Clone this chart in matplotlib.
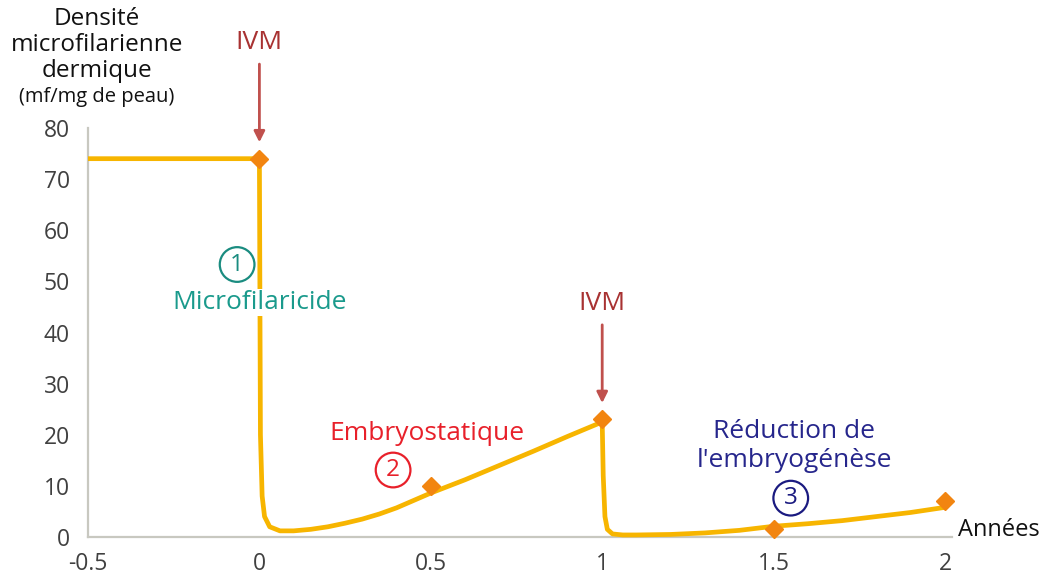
import matplotlib
matplotlib.use("Agg")
import matplotlib.pyplot as plt

plt.rcParams['font.family'] = ['Open Sans', 'DejaVu Sans']

# Skin microfilarial density over time (years), two ivermectin doses
curve_x = [-0.5, 0.0, 0.003, 0.008, 0.015, 0.03, 0.06, 0.1, 0.15, 0.2, 0.25, 0.3,
           0.35, 0.4, 0.5, 0.6, 0.7, 0.8, 0.9, 1.0, 1.003, 1.008, 1.015, 1.03,
           1.06, 1.1, 1.2, 1.3, 1.4, 1.5, 1.6, 1.7, 1.8, 1.9, 2.0]
curve_y = [74, 74, 20, 8, 4, 2, 1.2, 1.2, 1.5, 2.0, 2.7, 3.5,
           4.5, 5.7, 8.6, 11.2, 14.0, 16.8, 19.7, 22.5, 12, 4, 1.5, 0.6,
           0.4, 0.4, 0.5, 0.8, 1.3, 2.1, 2.6, 3.2, 4.0, 4.8, 5.8]

marker_x = [0.0, 0.5, 1.0, 1.5, 2.0]
marker_y = [74, 10, 23, 1.5, 7]

dose_x = [0.0, 1.0]
dose_y = [74, 23]

x_ticks = [-0.5, 0, 0.5, 1, 1.5, 2]
x_tick_labels = ['-0.5', '0', '0.5', '1', '1.5', '2']
y_ticks = [0, 10, 20, 30, 40, 50, 60, 70, 80]

W, H = 1044, 576
fig = plt.figure(figsize=(W / 100, H / 100), dpi=100)
fig.patch.set_facecolor('white')
ax = fig.add_axes([88 / W, (H - 537) / H, (945 - 88) / W, (537 - 128) / H])
ax.set_xlim(-0.5, 2.0)
ax.set_ylim(0, 80)
ax.set_facecolor('none')

for s in ['top', 'right']:
    ax.spines[s].set_visible(False)
for s in ['left', 'bottom']:
    ax.spines[s].set_color('#C8C8C0')
    ax.spines[s].set_linewidth(1.6)
ax.spines['bottom'].set_bounds(-0.5, 2.02)

ax.set_xticks(x_ticks)
ax.set_xticklabels(x_tick_labels)
ax.set_yticks(y_ticks)
ax.tick_params(length=0, labelsize=16.5, colors='#404040', pad=13)
ax.tick_params(axis='x', pad=11)

ax.plot(curve_x, curve_y, color='#F7B500', lw=3.4, solid_joinstyle='round',
        solid_capstyle='butt', zorder=3, clip_on=False)
ax.plot(marker_x, marker_y, ls='none', marker='D', ms=9.5, color='#F28510',
        zorder=4, clip_on=False)

# Dose arrows
for dx, dy in zip(dose_x, dose_y):
    ax.annotate('', xy=(dx, dy + 3.2), xytext=(dx, dy + 18.5),
                arrowprops=dict(arrowstyle='-|>', color='#C0504D', lw=2,
                                mutation_scale=16, shrinkA=0, shrinkB=0),
                annotation_clip=False, zorder=5)
    ax.text(dx, dy + 20.3, 'IVM', color='#A83232', fontsize=19,
            ha='center', va='bottom', zorder=5)

# Phase annotations
circ = dict(boxstyle='circle,pad=0.22', fc='white', lw=1.6)
ax.text(-0.065, 53.3, '1', color='#1A8C80', fontsize=17.5, ha='center', va='center',
        bbox=dict(circ, ec='#1A8C80'), zorder=6)
ax.text(0.0, 45.9, 'Microfilaricide', color='#1A9A8C', fontsize=19, ha='center',
        va='center', bbox=dict(boxstyle='square,pad=0.05', fc='white', ec='none'), zorder=6)

ax.text(0.49, 20.3, 'Embryostatique', color='#E8202A', fontsize=19, ha='center',
        va='center', zorder=6)
ax.text(0.39, 13.1, '2', color='#E8202A', fontsize=17.5, ha='center', va='center',
        bbox=dict(circ, ec='#E8202A'), zorder=6)

ax.text(1.56, 20.6, 'Réduction de', color='#26268C', fontsize=19, ha='center',
        va='center', zorder=6)
ax.text(1.56, 15.0, "l'embryogénèse", color='#26268C', fontsize=19, ha='center',
        va='center', zorder=6)
ax.text(1.55, 7.6, '3', color='#1A1A80', fontsize=17.5, ha='center', va='center',
        bbox=dict(circ, ec='#1A1A80'), zorder=6)

# Axis titles
fig.text(999 / W, 1 - 530 / H, 'Années', fontsize=17, color='#111111',
         ha='center', va='center')
fig.text(97 / W, 1 - 19 / H, 'Densité', fontsize=17.5, color='#111111', ha='center', va='center')
fig.text(97 / W, 1 - 45 / H, 'microfilarienne', fontsize=17.5, color='#111111', ha='center', va='center')
fig.text(97 / W, 1 - 71 / H, 'dermique', fontsize=17.5, color='#111111', ha='center', va='center')
fig.text(97 / W, 1 - 97 / H, '(mf/mg de peau)', fontsize=14.5, color='#111111', ha='center', va='center')

fig.savefig('out.png', dpi=100, facecolor='white')
